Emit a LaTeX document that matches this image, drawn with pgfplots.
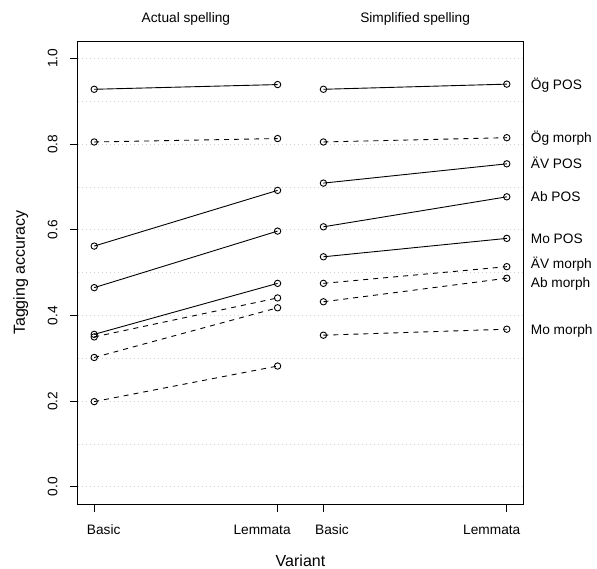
\documentclass[border=0pt]{standalone}
\usepackage{fontspec}
\setmainfont{Liberation Sans}
\usepackage{pgfplots}
\pgfplotsset{compat=1.18}
\definecolor{lgray}{HTML}{D3D3D3}
\newcommand{\lbl}{\fontsize{13.7bp}{16bp}\selectfont}
\newcommand{\biglbl}{\fontsize{16bp}{19bp}\selectfont}
\begin{document}
\begin{tikzpicture}
\useasboundingbox (-77.7bp,-65bp) rectangle (519.3bp,504bp);
\begin{axis}[
  at={(0,0)}, anchor=south west,
  scale only axis, width=445.6bp, height=462.7bp,
  xmin=0.91, xmax=3.34, ymin=-0.04, ymax=1.04,
  clip=false,
  axis line style={black, line width=0.8bp},
  tick style={black, line width=0.8bp},
  tick align=outside, tick pos=left,
  major tick length=7.5bp, minor tick length=0pt,
  xtick={1,2,2.25,3.25},
  xticklabels={\hspace*{19bp}Basic, Lemmata\hspace*{31bp}, \hspace*{17bp}Basic, Lemmata\hspace*{30bp}},
  ytick={0,0.2,0.4,0.6,0.8,1}, yticklabels={0.0,0.2,0.4,0.6,0.8,1.0},
  minor ytick={0.1,0.3,0.5,0.7,0.9},
  ymajorgrids, yminorgrids,
  major grid style={draw=lgray, dash pattern=on 1bp off 3bp, line width=0.8bp},
  minor grid style={draw=lgray, dash pattern=on 1bp off 3bp, line width=0.8bp},
  xticklabel style={font=\lbl, anchor=base, inner sep=0pt, yshift=-22.5bp},
  yticklabel style={font=\lbl, rotate=90, anchor=base, inner sep=0pt, yshift=12.9bp},
  xlabel={Variant}, ylabel={Tagging accuracy},
  xlabel style={font=\biglbl, at={(rel axis cs:0.5,0)}, anchor=base, inner sep=0pt, yshift=-62.5bp},
  ylabel style={font=\biglbl, at={(rel axis cs:0,0.5)}, anchor=base, inner sep=0pt, yshift=52.7bp},
  every axis plot/.append style={black, line width=0.9bp, mark=o, mark size=3.2bp, mark options={solid}},
]
% Actual spelling
\addplot[solid] coordinates {(1,0.928) (2,0.939)};
\addplot[dash pattern=on 5bp off 5bp] coordinates {(1,0.805) (2,0.813)};
\addplot[solid] coordinates {(1,0.562) (2,0.692)};
\addplot[solid] coordinates {(1,0.465) (2,0.597)};
\addplot[solid] coordinates {(1,0.356) (2,0.475)};
\addplot[dash pattern=on 5bp off 5bp] coordinates {(1,0.350) (2,0.441)};
\addplot[dash pattern=on 5bp off 5bp] coordinates {(1,0.302) (2,0.418)};
\addplot[dash pattern=on 5bp off 5bp] coordinates {(1,0.199) (2,0.282)};
% Simplified spelling
\addplot[solid] coordinates {(2.25,0.928) (3.25,0.940)};
\addplot[dash pattern=on 5bp off 5bp] coordinates {(2.25,0.805) (3.25,0.815)};
\addplot[solid] coordinates {(2.25,0.709) (3.25,0.754)};
\addplot[solid] coordinates {(2.25,0.607) (3.25,0.677)};
\addplot[solid] coordinates {(2.25,0.537) (3.25,0.580)};
\addplot[dash pattern=on 5bp off 5bp] coordinates {(2.25,0.475) (3.25,0.514)};
\addplot[dash pattern=on 5bp off 5bp] coordinates {(2.25,0.432) (3.25,0.487)};
\addplot[dash pattern=on 5bp off 5bp] coordinates {(2.25,0.354) (3.25,0.368)};
% panel titles
\node[anchor=base, font=\lbl, inner sep=0pt] at ([yshift=18.4bp]axis cs:1.5,1.04) {Actual spelling};
\node[anchor=base, font=\lbl, inner sep=0pt] at ([yshift=18.4bp]axis cs:2.75,1.04) {Simplified spelling};
% series labels
\node[anchor=base west, font=\lbl, inner sep=0pt] at ([xshift=7.4bp, yshift=-4.9bp]axis cs:3.34,0.940) {Ög POS};
\node[anchor=base west, font=\lbl, inner sep=0pt] at ([xshift=7.4bp, yshift=-4.9bp]axis cs:3.34,0.815) {Ög morph};
\node[anchor=base west, font=\lbl, inner sep=0pt] at ([xshift=7.4bp, yshift=-4.9bp]axis cs:3.34,0.754) {ÄV POS};
\node[anchor=base west, font=\lbl, inner sep=0pt] at ([xshift=7.4bp, yshift=-4.9bp]axis cs:3.34,0.677) {Ab POS};
\node[anchor=base west, font=\lbl, inner sep=0pt] at ([xshift=7.4bp, yshift=-4.9bp]axis cs:3.34,0.580) {Mo POS};
\node[anchor=base west, font=\lbl, inner sep=0pt] at ([xshift=7.4bp, yshift=-4.9bp]axis cs:3.34,0.522) {ÄV morph};
\node[anchor=base west, font=\lbl, inner sep=0pt] at ([xshift=7.4bp, yshift=-4.9bp]axis cs:3.34,0.476) {Ab morph};
\node[anchor=base west, font=\lbl, inner sep=0pt] at ([xshift=7.4bp, yshift=-4.9bp]axis cs:3.34,0.368) {Mo morph};
\end{axis}
\end{tikzpicture}
\end{document}
